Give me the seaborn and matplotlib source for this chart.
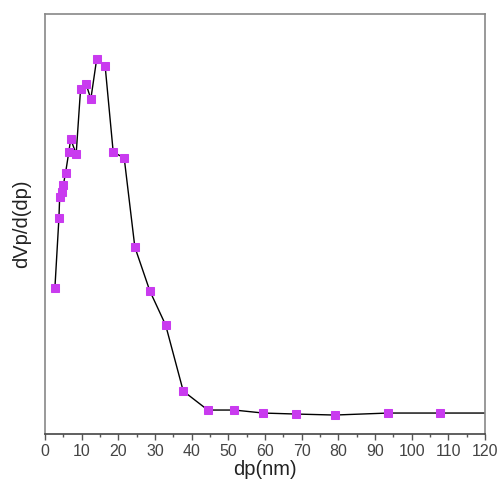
import matplotlib
matplotlib.use("Agg")
import matplotlib.pyplot as plt
import seaborn as sns
import pandas as pd
from matplotlib.ticker import MultipleLocator

dp = [2.7, 3.8, 4.0, 4.5, 5.0, 5.6, 6.5, 7.0, 8.5, 9.7, 11.2, 12.5, 14.1, 16.4,
      18.6, 21.6, 24.5, 28.6, 32.9, 37.7, 44.4, 51.6, 59.5, 68.4, 79.0, 93.6,
      107.7, 125.0]
dvp = [146, 216, 237, 242, 249, 261, 282, 295, 280, 345, 350, 335, 375, 368,
       282, 276, 187, 143, 109, 43, 24, 24, 21, 20, 19, 21, 21, 21]

df = pd.DataFrame({"dp": dp, "dvp": dvp})

sns.set_style("white")
plt.rcParams['font.family'] = ['Liberation Sans', 'DejaVu Sans']

fig = plt.figure(figsize=(5.0, 4.91), dpi=100)
ax = fig.add_axes([0.09, 0.116, 0.88, 0.8555])

sns.lineplot(data=df, x="dp", y="dvp", ax=ax, color="black", linewidth=1.0,
             marker="s", markersize=6.3, markerfacecolor="#C93BEF",
             markeredgecolor="#C93BEF", sort=False)

ax.set_xlim(0, 120)
ax.set_ylim(0, 420)
ax.xaxis.set_major_locator(MultipleLocator(10))
ax.xaxis.set_minor_locator(MultipleLocator(5))
ax.set_yticks([])
ax.tick_params(axis="x", which="major", direction="out", length=4, width=1,
               color="#555555", labelsize=11.5, labelcolor="#444444", pad=3,
               bottom=True)
ax.tick_params(axis="x", which="minor", direction="out", length=2.5, width=1,
               color="#555555", bottom=True)
for s in ax.spines.values():
    s.set_color("#888888")
    s.set_linewidth(1.2)
ax.spines["bottom"].set_color("#444444")
ax.set_xlabel("dp(nm)", fontsize=14.5, color="#222222", labelpad=1)
ax.set_ylabel("dVp/d(dp)", fontsize=14.5, color="#222222", labelpad=10)

fig.savefig("out.png", dpi=100)
